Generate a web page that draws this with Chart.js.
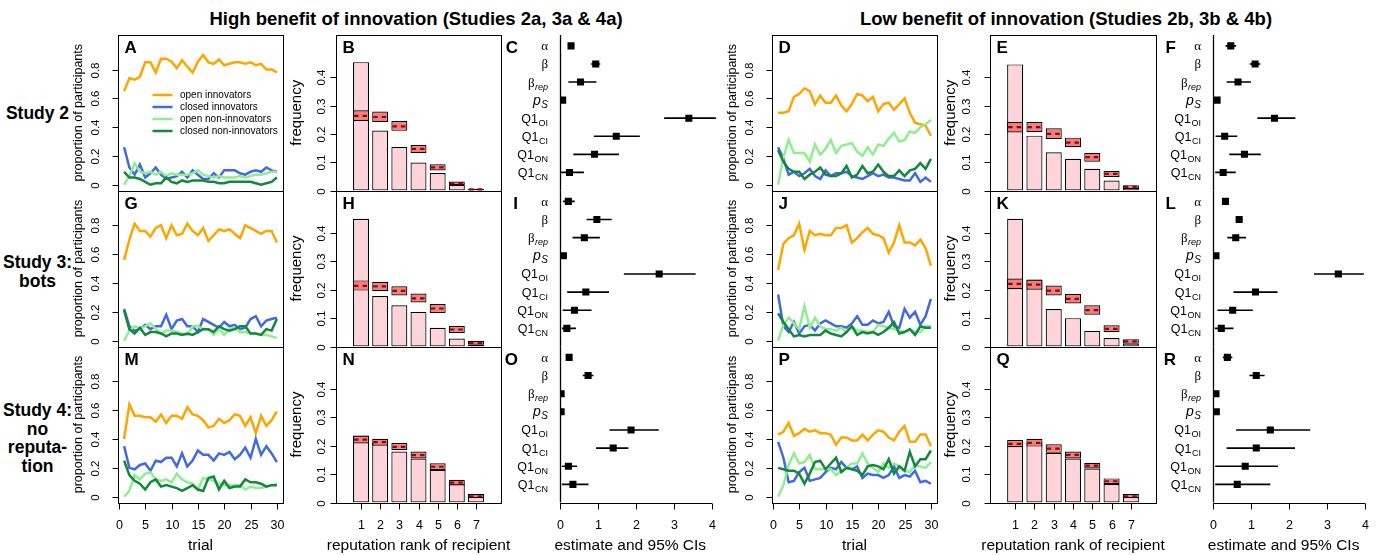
<!DOCTYPE html>
<html>
<head>
<meta charset="utf-8">
<title>Innovation and reputation</title>
<script src="https://cdn.jsdelivr.net/npm/chart.js@4.4.1/dist/chart.umd.min.js"></script>
<style>
  html, body { margin: 0; padding: 0; background: #fff; }
  #wrap { position: relative; width: 1381px; height: 555px; overflow: hidden; font-family: "Liberation Sans", Arial, sans-serif; }
  #wrap canvas { position: absolute; left: 0; top: 0; }
  .lbl { position: absolute; font-weight: bold; text-align: center; white-space: nowrap; color: #000; }
  .ttl { font-size: 18.5px; line-height: 22px; width: 500px; }
  .row { font-size: 17.5px; line-height: 18.7px; left: 0; width: 75px; }
</style>
</head>
<body>
<div id="wrap">
  <div class="lbl ttl" style="left:166px;top:7.5px">High benefit of innovation (Studies 2a, 3a &amp; 4a)</div>
  <div class="lbl ttl" style="left:816px;top:7.5px">Low benefit of innovation (Studies 2b, 3b &amp; 4b)</div>
  <div class="lbl row" style="top:103.8px">Study 2</div>
  <div class="lbl row" style="top:252.8px">Study 3:<br>bots</div>
  <div class="lbl row" style="top:400.8px">Study 4:<br>no<br>reputa-<br>tion</div>
</div>
<script>
// data

const trials = [1,2,3,4,5,6,7,8,9,10,11,12,13,14,15,16,17,18,19,20,21,22,23,24,25,26,27,28,29,30];
const ranks = [1,2,3,4,5,6,7];
const seriesNames = ['open innovators', 'closed innovators', 'open non-innovators', 'closed non-innovators'];
const seriesColors = ['#ffa500', '#4169e1', '#90ee90', '#12883e'];

const propTicks = [0, 0.2, 0.4, 0.6, 0.8];
const propTickLabels = ['0', '0.2', '0.4', '0.6', '0.8'];
const freqTicks = [0, 0.1, 0.2, 0.3, 0.4];
const freqTickLabels = ['0', '0.1', '0.2', '0.3', '0.4'];
const trialTicks = [0, 5, 10, 15, 20, 25, 30];
const estTicks = [0, 1, 2, 3, 4];

const paramMain = ['α', 'β', 'β', 'p', 'Q1', 'Q1', 'Q1', 'Q1'];
const paramSub = ['', '', 'rep', 'S', 'OI', 'CI', 'ON', 'CN'];

// high benefit, study 2
const A_openInnov = [0.65,0.74,0.73,0.75,0.85,0.85,0.78,0.875,0.875,0.855,0.81,0.865,0.82,0.78,0.855,0.90,0.85,0.84,0.87,0.83,0.84,0.85,0.85,0.84,0.85,0.83,0.84,0.80,0.80,0.78];
const A_closedInnov = [0.26,0.12,0.07,0.14,0.05,0.08,0.12,0.07,0.04,0.05,0.06,0.09,0.05,0.10,0.07,0.04,0.04,0.08,0.05,0.10,0.10,0.10,0.08,0.07,0.09,0.10,0.09,0.12,0.10,0.09];
const A_openNon = [0.0,0.06,0.15,0.09,0.08,0.09,0.07,0.09,0.06,0.08,0.07,0.07,0.07,0.08,0.10,0.07,0.06,0.05,0.06,0.05,0.05,0.05,0.06,0.05,0.06,0.07,0.07,0.08,0.09,0.09];
const A_closedNon = [0.09,0.05,0.05,0.04,0.02,0.0,0.01,0.01,0.05,0.02,0.01,0.03,0.02,0.03,0.03,0.03,0.02,0.02,0.01,0.01,0.02,0.02,0.02,0.02,0.02,0.01,0.0,0.01,0.02,0.05];

const B_freq = [0.454,0.212,0.154,0.099,0.062,0.020,0.005];
const B_ciLo = [0.246,0.242,0.211,0.132,0.071,0.019,0.002];
const B_ciHi = [0.284,0.279,0.246,0.161,0.093,0.032,0.006];
const B_ciMid = [0.264,0.260,0.227,0.147,0.082,0.025,0.004];

const C_est = [0.29,0.94,0.54,0.07,3.39,1.48,0.91,0.25];
const C_lo = [0.25,0.82,0.22,0.05,2.74,0.89,0.35,0.03];
const C_hi = [0.33,1.06,0.96,0.09,4.10,2.10,1.55,0.63];

// low benefit, study 2
const D_openInnov = [0.50,0.50,0.51,0.61,0.63,0.67,0.65,0.56,0.62,0.57,0.57,0.62,0.55,0.51,0.56,0.63,0.62,0.58,0.61,0.51,0.56,0.57,0.52,0.56,0.60,0.50,0.43,0.42,0.41,0.34];
const D_closedInnov = [0.26,0.18,0.07,0.09,0.06,0.08,0.11,0.06,0.04,0.10,0.06,0.08,0.08,0.09,0.06,0.05,0.04,0.06,0.08,0.06,0.07,0.05,0.05,0.04,0.03,0.03,0.08,0.02,0.05,0.02];
const D_openNon = [0.0,0.19,0.31,0.22,0.22,0.22,0.16,0.28,0.21,0.25,0.31,0.22,0.27,0.28,0.29,0.23,0.20,0.26,0.21,0.28,0.27,0.32,0.36,0.30,0.31,0.37,0.36,0.40,0.42,0.45];
const D_closedNon = [0.24,0.16,0.11,0.09,0.09,0.04,0.07,0.09,0.12,0.07,0.06,0.06,0.08,0.13,0.05,0.07,0.13,0.08,0.09,0.14,0.09,0.06,0.06,0.10,0.06,0.10,0.11,0.15,0.11,0.18];

const E_freq = [0.446,0.194,0.135,0.112,0.077,0.035,0.012];
const E_ciLo = [0.205,0.206,0.182,0.153,0.102,0.048,0.005];
const E_ciHi = [0.242,0.242,0.220,0.187,0.133,0.069,0.019];
const E_ciMid = [0.224,0.224,0.200,0.169,0.118,0.059,0.013];

const F_est = [0.46,1.10,0.65,0.10,1.61,0.30,0.82,0.26];
const F_lo = [0.32,0.96,0.35,0.08,1.16,0.06,0.42,0.05];
const F_hi = [0.60,1.24,0.99,0.12,2.16,0.63,1.25,0.59];

// high benefit, study 3 (bots)
const G_openInnov = [0.56,0.70,0.81,0.76,0.76,0.72,0.78,0.80,0.71,0.80,0.73,0.74,0.81,0.76,0.73,0.78,0.69,0.73,0.77,0.76,0.77,0.74,0.71,0.80,0.78,0.76,0.74,0.76,0.76,0.68];
const G_closedInnov = [0.22,0.10,0.07,0.08,0.11,0.08,0.10,0.10,0.18,0.08,0.14,0.15,0.10,0.10,0.06,0.15,0.13,0.11,0.09,0.13,0.10,0.11,0.08,0.09,0.15,0.17,0.10,0.14,0.15,0.16];
const G_openNon = [0.0,0.07,0.10,0.08,0.10,0.12,0.08,0.05,0.07,0.07,0.06,0.05,0.04,0.10,0.10,0.08,0.08,0.04,0.08,0.04,0.08,0.09,0.06,0.06,0.05,0.05,0.04,0.04,0.03,0.02];
const G_closedNon = [0.21,0.08,0.05,0.09,0.04,0.06,0.06,0.05,0.03,0.05,0.05,0.04,0.05,0.04,0.06,0.08,0.08,0.06,0.10,0.08,0.07,0.08,0.10,0.10,0.05,0.05,0.04,0.08,0.07,0.15];

const H_freq = [0.450,0.178,0.145,0.122,0.066,0.028,0.006];
const H_ciLo = [0.197,0.195,0.180,0.155,0.118,0.048,0.006];
const H_ciHi = [0.233,0.228,0.212,0.187,0.150,0.072,0.020];
const H_ciMid = [0.214,0.212,0.196,0.170,0.134,0.060,0.013];

const I_est = [0.22,0.97,0.64,0.09,2.61,0.68,0.38,0.18];
const I_lo = [0.08,0.70,0.33,0.07,1.68,0.19,0.07,0.05];
const I_hi = [0.39,1.36,1.05,0.11,3.57,1.29,0.83,0.42];

// low benefit, study 3 (bots)
const J_openInnov = [0.49,0.67,0.71,0.73,0.81,0.63,0.76,0.73,0.74,0.73,0.73,0.78,0.78,0.80,0.68,0.71,0.75,0.78,0.74,0.73,0.71,0.61,0.68,0.80,0.68,0.68,0.66,0.70,0.64,0.52];
const J_closedInnov = [0.32,0.10,0.06,0.13,0.05,0.10,0.11,0.07,0.12,0.14,0.12,0.10,0.10,0.09,0.12,0.17,0.11,0.11,0.14,0.12,0.13,0.20,0.10,0.09,0.22,0.16,0.20,0.11,0.17,0.29];
const J_openNon = [0.0,0.11,0.16,0.12,0.08,0.24,0.09,0.16,0.10,0.08,0.08,0.07,0.09,0.06,0.10,0.07,0.07,0.06,0.06,0.11,0.10,0.09,0.08,0.07,0.06,0.08,0.06,0.06,0.10,0.10];
const J_closedNon = [0.19,0.13,0.08,0.03,0.04,0.03,0.04,0.04,0.04,0.07,0.05,0.04,0.03,0.06,0.10,0.04,0.06,0.05,0.06,0.04,0.06,0.09,0.13,0.05,0.06,0.08,0.04,0.10,0.09,0.09];

const K_freq = [0.450,0.235,0.132,0.100,0.055,0.030,0.010];
const K_ciLo = [0.202,0.200,0.180,0.152,0.112,0.050,0.010];
const K_ciHi = [0.240,0.236,0.215,0.185,0.145,0.075,0.026];
const K_ciMid = [0.221,0.218,0.197,0.168,0.128,0.062,0.018];

const L_est = [0.32,0.68,0.59,0.07,3.29,1.11,0.51,0.21];
const L_lo = [0.29,0.61,0.37,0.05,2.65,0.53,0.11,0.04];
const L_hi = [0.35,0.77,0.86,0.09,3.96,1.69,1.04,0.53];

// high benefit, study 4 (no reputation)
const M_openInnov = [0.40,0.64,0.56,0.56,0.55,0.55,0.52,0.57,0.51,0.56,0.56,0.54,0.62,0.57,0.56,0.53,0.48,0.49,0.54,0.51,0.53,0.57,0.56,0.49,0.55,0.44,0.56,0.49,0.53,0.59];
const M_closedInnov = [0.35,0.20,0.19,0.22,0.23,0.18,0.25,0.24,0.27,0.27,0.21,0.30,0.21,0.25,0.32,0.29,0.29,0.25,0.30,0.29,0.31,0.26,0.29,0.34,0.27,0.40,0.29,0.35,0.30,0.24];
const M_openNon = [0.0,0.04,0.15,0.12,0.16,0.17,0.12,0.11,0.12,0.10,0.16,0.12,0.10,0.09,0.05,0.13,0.12,0.11,0.09,0.08,0.08,0.08,0.08,0.05,0.07,0.06,0.06,0.07,0.08,0.09];
const M_closedNon = [0.25,0.15,0.11,0.09,0.05,0.10,0.12,0.07,0.08,0.07,0.06,0.04,0.06,0.08,0.05,0.04,0.13,0.14,0.05,0.11,0.06,0.07,0.07,0.12,0.10,0.10,0.09,0.07,0.08,0.08];

const N_freq = [0.235,0.210,0.180,0.155,0.115,0.065,0.025];
const N_ciLo = [0.208,0.200,0.185,0.155,0.115,0.060,0.015];
const N_ciHi = [0.236,0.225,0.210,0.180,0.138,0.080,0.030];
const N_ciMid = [0.222,0.213,0.196,0.167,0.126,0.070,0.022];

const O_est = [0.24,0.74,0.03,0.03,1.87,1.40,0.22,0.34];
const O_lo = [0.18,0.60,0.01,0.01,1.30,0.95,0.05,0.05];
const O_hi = [0.30,0.88,0.05,0.05,2.60,1.80,0.45,0.75];

// low benefit, study 4 (no reputation)
const P_openInnov = [0.43,0.45,0.51,0.42,0.44,0.47,0.45,0.46,0.44,0.44,0.43,0.36,0.41,0.41,0.39,0.39,0.43,0.39,0.43,0.46,0.45,0.41,0.39,0.45,0.49,0.38,0.38,0.43,0.43,0.35];
const P_closedInnov = [0.38,0.27,0.10,0.11,0.17,0.20,0.11,0.12,0.13,0.17,0.20,0.19,0.24,0.20,0.19,0.21,0.13,0.16,0.15,0.15,0.13,0.15,0.21,0.13,0.15,0.14,0.18,0.10,0.11,0.09];
const P_openNon = [0.0,0.08,0.22,0.30,0.23,0.24,0.29,0.19,0.19,0.19,0.19,0.15,0.18,0.20,0.23,0.23,0.30,0.23,0.20,0.17,0.23,0.20,0.23,0.21,0.18,0.17,0.22,0.21,0.20,0.24];
const P_closedNon = [0.20,0.19,0.18,0.18,0.16,0.09,0.16,0.24,0.25,0.19,0.23,0.27,0.17,0.20,0.19,0.18,0.15,0.21,0.22,0.21,0.19,0.26,0.16,0.21,0.18,0.31,0.21,0.26,0.26,0.32];

const Q_freq = [0.200,0.212,0.175,0.155,0.120,0.065,0.020];
const Q_ciLo = [0.195,0.197,0.175,0.155,0.120,0.065,0.015];
const Q_ciHi = [0.220,0.225,0.205,0.180,0.140,0.085,0.030];
const Q_ciMid = [0.207,0.210,0.190,0.168,0.130,0.075,0.022];

const R_est = [0.37,1.13,0.07,0.08,1.50,1.13,0.84,0.63];
const R_lo = [0.25,0.95,0.05,0.06,0.60,0.35,0.05,0.05];
const R_hi = [0.50,1.35,0.09,0.10,2.55,2.15,1.70,1.50];

// page layout (pixels)
const W = 1381, H = 555;
const rows = [[35, 190.5], [190.5, 346.5], [346.5, 502.5]];
const cols = {
  lineL: [118, 283], barL: [336, 501], ciL: [560, 719.6],
  lineR: [772, 937], barR: [990, 1156], ciR: [1213.3, 1372.9]
};
const ciLetterRight = { ciL: 518, ciR: 1176 };
const yTickGap = { lineL: 22.5, barL: 14.5, lineR: 22.5, barR: 23 };

const sans = '"Liberation Sans", Arial, sans-serif';
const serif = '"Liberation Serif", "Times New Roman", serif';

function text(ctx, s, x, y, font, align, base, rot) {
  ctx.save();
  ctx.font = font;
  ctx.fillStyle = '#000';
  ctx.textAlign = align || 'center';
  ctx.textBaseline = base || 'middle';
  ctx.translate(x, y);
  if (rot) ctx.rotate(rot);
  ctx.fillText(s, 0, 0);
  ctx.restore();
}

function seg(ctx, x1, y1, x2, y2) {
  ctx.beginPath();
  ctx.moveTo(x1, y1);
  ctx.lineTo(x2, y2);
  ctx.stroke();
}

function paramLabel(ctx, i, right, y) {
  const main = paramMain[i], sub = paramSub[i];
  let mainFont = '12.5px ' + sans, subFont = '9px ' + sans;
  if (main === 'α' || main === 'β') { mainFont = '13px ' + serif; subFont = 'italic 9px ' + sans; }
  if (main === 'p') { mainFont = 'italic 14px ' + sans; subFont = 'italic 10px ' + sans; }
  ctx.save();
  ctx.fillStyle = '#000';
  ctx.textBaseline = 'alphabetic';
  ctx.textAlign = 'left';
  ctx.font = subFont;
  const sw = sub ? ctx.measureText(sub).width + 0.5 : 0;
  ctx.font = mainFont;
  const mw = ctx.measureText(main).width;
  const base = y + 4.5;
  ctx.fillText(main, right - sw - mw, base);
  if (sub) {
    ctx.font = subFont;
    ctx.fillText(sub, right - sw + 0.5, base + 3);
  }
  ctx.restore();
}

function framePlugin(p) {
  return {
    id: 'frame' + p.letter,
    afterDatasetsDraw(chart) {
      if (p.kind !== 'bar') return;
      const ctx = chart.ctx, sy = chart.scales.y;
      const meta = chart.getDatasetMeta(1);
      ctx.save();
      ctx.strokeStyle = '#a40000';
      ctx.lineWidth = 2.2;
      ctx.setLineDash([4.5, 4]);
      meta.data.forEach((el, i) => {
        const y = sy.getPixelForValue(p.mid[i]);
        seg(ctx, el.x - el.width / 2 + 1, y, el.x + el.width / 2 - 1, y);
      });
      ctx.restore();
    },
    afterDraw(chart) {
      const ctx = chart.ctx, a = chart.chartArea, sx = chart.scales.x, sy = chart.scales.y;
      const bottomRow = p.row === 2;
      ctx.save();
      ctx.strokeStyle = '#000';
      ctx.lineWidth = 1;
      const Lx = Math.round(a.left) + 0.5, Tx = Math.round(a.top) + 0.5;
      const Rx = Math.round(a.right) + 0.5, Bx = Math.round(a.bottom) + 0.5;

      if (p.kind === 'ci') {
        const x0 = Math.round(sx.getPixelForValue(0)) + 0.5;
        ctx.lineWidth = 1.3;
        seg(ctx, x0, a.top, x0, a.bottom);
        paramMain.forEach((m, i) => paramLabel(ctx, i, x0 - 12.5, sy.getPixelForValue(i + 1)));
        text(ctx, p.letter, ciLetterRight[p.col], a.top + 18, 'bold 17px ' + sans, 'right', 'alphabetic');
        if (bottomRow) {
          ctx.lineWidth = 1;
          seg(ctx, sx.getPixelForValue(estTicks[0]), Bx, sx.getPixelForValue(estTicks[estTicks.length - 1]), Bx);
          estTicks.forEach(v => {
            const x = Math.round(sx.getPixelForValue(v)) + 0.5;
            seg(ctx, x, Bx, x, Bx + 6);
            text(ctx, String(v), x, a.bottom + 23, '12.5px ' + sans);
          });
          text(ctx, 'estimate and 95% CIs', sx.getPixelForValue(1.85), a.bottom + 43, '15.5px ' + sans);
        }
        ctx.restore();
        return;
      }

      ctx.strokeRect(Lx, Tx, Rx - Lx, Bx - Tx);
      const yt = p.kind === 'line' ? propTicks : freqTicks;
      const ytl = p.kind === 'line' ? propTickLabels : freqTickLabels;
      yt.forEach((v, i) => {
        const y = Math.round(sy.getPixelForValue(v)) + 0.5;
        seg(ctx, Lx - 6, y, Lx, y);
        text(ctx, ytl[i], a.left - yTickGap[p.col], y, '11.5px ' + sans, 'center', 'middle', -Math.PI / 2);
      });
      const yMid = (a.top + a.bottom) / 2;
      if (p.kind === 'line') {
        text(ctx, 'proportion of participants', a.left - 39, yMid, '12.5px ' + sans, 'center', 'middle', -Math.PI / 2);
      } else {
        text(ctx, 'frequency', a.left - 39, yMid, '15px ' + sans, 'center', 'middle', -Math.PI / 2);
      }
      text(ctx, p.letter, a.left + 6.5, a.top + 18, 'bold 17px ' + sans, 'left', 'alphabetic');

      if (bottomRow) {
        const xt = p.kind === 'line' ? trialTicks : ranks;
        xt.forEach(v => {
          const x = Math.round(sx.getPixelForValue(v)) + 0.5;
          seg(ctx, x, Bx, x, Bx + 6);
          text(ctx, String(v), x, a.bottom + 23, '12.5px ' + sans);
        });
        const xMid = (a.left + a.right) / 2;
        text(ctx, p.kind === 'line' ? 'trial' : 'reputation rank of recipient', xMid, a.bottom + 43, '15.5px ' + sans);
      }

      if (p.legend) {
        ctx.lineWidth = 2.5;
        seriesNames.forEach((name, k) => {
          const y = a.top + 60 + 12 * k;
          ctx.strokeStyle = seriesColors[k];
          seg(ctx, a.left + 34.5, y, a.left + 54.5, y);
          text(ctx, name, a.left + 62, y, '10px ' + sans, 'left', 'middle');
        });
      }
      ctx.restore();
    }
  };
}

function makeCanvas() {
  const cv = document.createElement('canvas');
  cv.width = W;
  cv.height = H;
  document.getElementById('wrap').appendChild(cv);
  return cv;
}

function baseOptions(p) {
  const [x0, x1] = cols[p.col], [y0, y1] = rows[p.row];
  return {
    responsive: false,
    animation: false,
    events: [],
    devicePixelRatio: 1,
    layout: { padding: { left: x0, right: W - x1, top: y0, bottom: H - y1 } },
    plugins: { legend: { display: false }, tooltip: { enabled: false } }
  };
}

function linePanel(p) {
  const opts = baseOptions(p);
  opts.scales = {
    x: { type: 'linear', display: false, min: -0.16, max: 31.16 },
    y: { type: 'linear', display: false, min: -0.04, max: 1.04 }
  };
  const datasets = p.series.map((vals, k) => ({
    label: seriesNames[k],
    data: trials.map((t, i) => ({ x: t, y: vals[i] })),
    borderColor: seriesColors[k],
    borderWidth: 2.5,
    pointRadius: 0,
    tension: 0,
    fill: false,
    order: 3 - k
  }));
  new Chart(makeCanvas(), { type: 'line', data: { datasets }, options: opts, plugins: [framePlugin(p)] });
}

function barPanel(p) {
  const opts = baseOptions(p);
  opts.scales = {
    x: { type: 'linear', display: false, min: 0.31, max: 7.69,
         afterBuildTicks: s => { s.ticks = ranks.map(v => ({ value: v })); } },
    y: { type: 'linear', display: false, min: 0, max: 0.55 }
  };
  const datasets = [
    {
      label: 'observed',
      data: ranks.map((r, i) => ({ x: r, y: p.freq[i] })),
      backgroundColor: '#fcd4da',
      borderColor: '#000',
      borderWidth: 1.2,
      borderSkipped: false,
      grouped: false,
      categoryPercentage: 1,
      barPercentage: 1 / 1.2,
      order: 2
    },
    {
      label: 'model 95% CI',
      data: ranks.map((r, i) => ({ x: r, y: [p.lo[i], p.hi[i]] })),
      backgroundColor: '#f08080',
      borderColor: '#000',
      borderWidth: 1.2,
      borderSkipped: false,
      grouped: false,
      categoryPercentage: 1,
      barPercentage: 1 / 1.2,
      order: 1
    }
  ];
  new Chart(makeCanvas(), { type: 'bar', data: { datasets }, options: opts, plugins: [framePlugin(p)] });
}

function ciPanel(p) {
  const opts = baseOptions(p);
  opts.scales = {
    x: { type: 'linear', display: false, min: 0, max: 4.2 },
    y: { type: 'linear', display: false, min: 0.4, max: 9.0, reverse: true }
  };
  const bars = [];
  paramMain.forEach((m, i) => {
    bars.push({ x: p.lo[i], y: i + 1 }, { x: p.hi[i], y: i + 1 }, { x: p.hi[i], y: null });
  });
  const datasets = [
    { label: '95% CI', data: bars, showLine: true, spanGaps: false, borderColor: '#000',
      borderWidth: 1.6, pointRadius: 0, order: 1 },
    { label: 'estimate', data: p.est.map((v, i) => ({ x: v, y: i + 1 })), pointStyle: 'rect',
      pointRadius: 5, backgroundColor: '#000', borderColor: '#000', borderWidth: 0, order: 0 }
  ];
  new Chart(makeCanvas(), { type: 'scatter', data: { datasets }, options: opts, plugins: [framePlugin(p)] });
}

const panels = [
  { kind: 'line', letter: 'A', col: 'lineL', row: 0, series: [A_openInnov, A_closedInnov, A_openNon, A_closedNon], legend: true },
  { kind: 'bar', letter: 'B', col: 'barL', row: 0, freq: B_freq, lo: B_ciLo, hi: B_ciHi, mid: B_ciMid },
  { kind: 'ci', letter: 'C', col: 'ciL', row: 0, est: C_est, lo: C_lo, hi: C_hi },
  { kind: 'line', letter: 'D', col: 'lineR', row: 0, series: [D_openInnov, D_closedInnov, D_openNon, D_closedNon] },
  { kind: 'bar', letter: 'E', col: 'barR', row: 0, freq: E_freq, lo: E_ciLo, hi: E_ciHi, mid: E_ciMid },
  { kind: 'ci', letter: 'F', col: 'ciR', row: 0, est: F_est, lo: F_lo, hi: F_hi },
  { kind: 'line', letter: 'G', col: 'lineL', row: 1, series: [G_openInnov, G_closedInnov, G_openNon, G_closedNon] },
  { kind: 'bar', letter: 'H', col: 'barL', row: 1, freq: H_freq, lo: H_ciLo, hi: H_ciHi, mid: H_ciMid },
  { kind: 'ci', letter: 'I', col: 'ciL', row: 1, est: I_est, lo: I_lo, hi: I_hi },
  { kind: 'line', letter: 'J', col: 'lineR', row: 1, series: [J_openInnov, J_closedInnov, J_openNon, J_closedNon] },
  { kind: 'bar', letter: 'K', col: 'barR', row: 1, freq: K_freq, lo: K_ciLo, hi: K_ciHi, mid: K_ciMid },
  { kind: 'ci', letter: 'L', col: 'ciR', row: 1, est: L_est, lo: L_lo, hi: L_hi },
  { kind: 'line', letter: 'M', col: 'lineL', row: 2, series: [M_openInnov, M_closedInnov, M_openNon, M_closedNon] },
  { kind: 'bar', letter: 'N', col: 'barL', row: 2, freq: N_freq, lo: N_ciLo, hi: N_ciHi, mid: N_ciMid },
  { kind: 'ci', letter: 'O', col: 'ciL', row: 2, est: O_est, lo: O_lo, hi: O_hi },
  { kind: 'line', letter: 'P', col: 'lineR', row: 2, series: [P_openInnov, P_closedInnov, P_openNon, P_closedNon] },
  { kind: 'bar', letter: 'Q', col: 'barR', row: 2, freq: Q_freq, lo: Q_ciLo, hi: Q_ciHi, mid: Q_ciMid },
  { kind: 'ci', letter: 'R', col: 'ciR', row: 2, est: R_est, lo: R_lo, hi: R_hi }
];

panels.forEach(p => {
  if (p.kind === 'line') linePanel(p);
  else if (p.kind === 'bar') barPanel(p);
  else ciPanel(p);
});
</script>
</body>
</html>
